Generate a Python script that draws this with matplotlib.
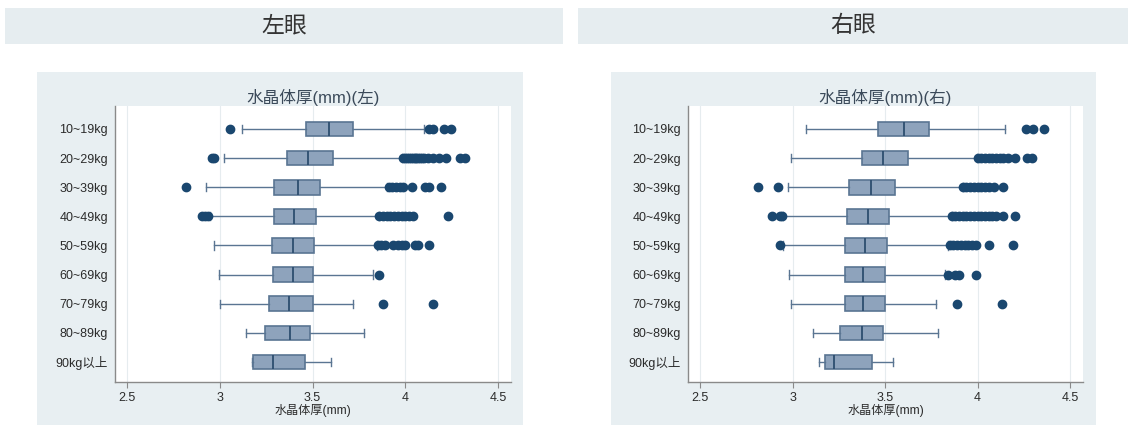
import matplotlib
matplotlib.use("Agg")
import matplotlib.pyplot as plt
from matplotlib.patches import Rectangle

plt.rcParams["font.family"] = ["Liberation Sans", "Noto Sans CJK SC", "DejaVu Sans"]

# =================
# DANE
# =================
kategorie = ["10~19kg", "20~29kg", "30~39kg", "40~49kg", "50~59kg",
             "60~69kg", "70~79kg", "80~89kg", "90kg以上"]

# lewe oko: q1, mediana, q3, wąsy, wartości odstające
lewy_q1 = [3.464, 3.363, 3.293, 3.293, 3.282, 3.288, 3.263, 3.243, 3.180]
lewy_med = [3.588, 3.478, 3.423, 3.400, 3.392, 3.396, 3.372, 3.381, 3.286]
lewy_q3 = [3.716, 3.608, 3.540, 3.518, 3.509, 3.500, 3.500, 3.489, 3.459]
lewy_lo = [3.120, 3.020, 2.928, 2.946, 2.970, 2.995, 3.000, 3.142, 3.174]
lewy_hi = [4.100, 3.980, 3.903, 3.856, 3.845, 3.824, 3.720, 3.780, 3.599]
lewy_out = [
    [3.056, 4.13, 4.15, 4.21, 4.245],
    [2.96, 2.97, 3.99, 4.00, 4.01, 4.02, 4.03, 4.04, 4.05, 4.06, 4.07, 4.08,
     4.09, 4.10, 4.12, 4.15, 4.18, 4.22, 4.295, 4.32],
    [2.82, 3.91, 3.93, 3.95, 3.97, 3.99, 4.034, 4.106, 4.13, 4.19],
    [2.905, 2.92, 2.937, 3.86, 3.88, 3.90, 3.92, 3.94, 3.96, 3.98, 4.00,
     4.02, 4.04, 4.23],
    [3.855, 3.87, 3.89, 3.935, 3.96, 3.98, 4.0, 4.05, 4.07, 4.128],
    [3.86],
    [3.881, 4.151],
    [],
    [],
]

# prawe oko
prawy_q1 = [3.464, 3.376, 3.304, 3.295, 3.284, 3.284, 3.284, 3.254, 3.174]
prawy_med = [3.600, 3.491, 3.423, 3.410, 3.392, 3.383, 3.383, 3.374, 3.223]
prawy_q3 = [3.739, 3.626, 3.552, 3.522, 3.511, 3.502, 3.502, 3.491, 3.432]
prawy_lo = [3.072, 2.993, 2.973, 2.946, 2.950, 2.982, 2.991, 3.112, 3.144]
prawy_hi = [4.151, 3.998, 3.921, 3.862, 3.842, 3.822, 3.773, 3.784, 3.543]
prawy_out = [
    [4.263, 4.30, 4.36],
    [4.00, 4.02, 4.04, 4.06, 4.08, 4.10, 4.12, 4.14, 4.165, 4.205, 4.27, 4.295],
    [2.815, 2.923, 3.92, 3.94, 3.96, 3.98, 4.00, 4.02, 4.04, 4.06, 4.09, 4.137],
    [2.89, 2.93, 2.945, 3.86, 3.88, 3.90, 3.92, 3.94, 3.96, 3.98, 4.00, 4.02,
     4.04, 4.06, 4.08, 4.10, 4.137, 4.20],
    [2.932, 3.85, 3.87, 3.89, 3.91, 3.93, 3.95, 3.97, 3.99, 4.06, 4.19],
    [3.84, 3.88, 3.90, 3.993],
    [3.89, 4.131],
    [],
    [],
]

xticks = [2.5, 3, 3.5, 4, 4.5]

# =================
# KOLORY
# =================
TLO_NAGLOWEK = "#e6edf0"
TLO_PANEL = "#e8eff2"
BOX_FILL = "#8ea3bc"
BOX_EDGE = "#5a7592"
MED_COL = "#2d4e6f"
OUT_COL = "#1a476f"
TEKST = "#2b2b2b"

W, H = 1132, 426


def fx(px):
    return px / W


def fy(py):
    return 1 - py / H


def panel(fig, x0, x1, ax_x0, ax_x1, tytul, q1, med, q3, lo, hi, out):
    # tło panelu
    fig.patches.append(Rectangle((fx(x0), fy(425)), fx(x1 - x0), (425 - 72) / H,
                                 transform=fig.transFigure, facecolor=TLO_PANEL,
                                 edgecolor="none", zorder=-5))

    ax = fig.add_axes([fx(ax_x0), fy(382), fx(ax_x1 - ax_x0), (382 - 106) / H])
    ax.set_facecolor("white")

    stats = []
    for i in range(len(kategorie)):
        stats.append(dict(med=med[i], q1=q1[i], q3=q3[i],
                          whislo=lo[i], whishi=hi[i], fliers=out[i]))
    pos = list(range(1, len(kategorie) + 1))
    ax.bxp(stats, positions=pos, orientation="horizontal", widths=0.5,
           patch_artist=True, showfliers=True,
           boxprops=dict(facecolor=BOX_FILL, edgecolor=BOX_EDGE, linewidth=1.2),
           medianprops=dict(color=MED_COL, linewidth=1.3),
           whiskerprops=dict(color=BOX_EDGE, linewidth=1.0),
           capprops=dict(color=BOX_EDGE, linewidth=1.0),
           capwidths=0.28,
           flierprops=dict(marker="o", markerfacecolor=OUT_COL,
                           markeredgecolor=OUT_COL, markersize=6))

    ax.set_xlim(2.435, 4.57)
    ax.set_ylim(9.69, 0.21)
    ax.set_xticks(xticks)
    ax.set_xticklabels(["2.5", "3", "3.5", "4", "4.5"], fontsize=9, color=TEKST)
    ax.set_yticks(pos)
    ax.set_yticklabels(kategorie, fontsize=9, color=TEKST)
    ax.tick_params(axis="y", length=0, pad=5)
    ax.tick_params(axis="x", length=4, color="#8a8a8a", pad=3)
    ax.grid(True, axis="x", color="#e6ecef", linewidth=0.8)
    ax.set_axisbelow(True)
    for s in ["top", "right"]:
        ax.spines[s].set_visible(False)
    for s in ["left", "bottom"]:
        ax.spines[s].set_color("#8a8a8a")
        ax.spines[s].set_linewidth(1.0)

    ax.set_title(tytul, fontsize=12, color="#3b4a5a", pad=1)
    ax.set_xlabel("水晶体厚(mm)", fontsize=8.7, color=TEKST, labelpad=0)
    return ax


fig = plt.figure(figsize=(W / 100, H / 100), dpi=100)
fig.patch.set_facecolor("white")

# nagłówki
for x0, x1, txt in [(5, 563, "左眼"), (578, 1128, "右眼")]:
    fig.patches.append(Rectangle((fx(x0), fy(44)), fx(x1 - x0), 36 / H,
                                 transform=fig.transFigure, facecolor=TLO_NAGLOWEK,
                                 edgecolor="none", zorder=-5))
    fig.text(fx((x0 + x1) / 2), fy(26), txt, ha="center", va="center",
             fontsize=16.5, color="#333333", family=["Noto Sans CJK SC"],
             fontweight="light")

panel(fig, 37, 523, 115, 511, "水晶体厚(mm)(左)",
      lewy_q1, lewy_med, lewy_q3, lewy_lo, lewy_hi, lewy_out)
panel(fig, 611, 1096, 688, 1083, "水晶体厚(mm)(右)",
      prawy_q1, prawy_med, prawy_q3, prawy_lo, prawy_hi, prawy_out)

fig.savefig("out.png", dpi=100)
